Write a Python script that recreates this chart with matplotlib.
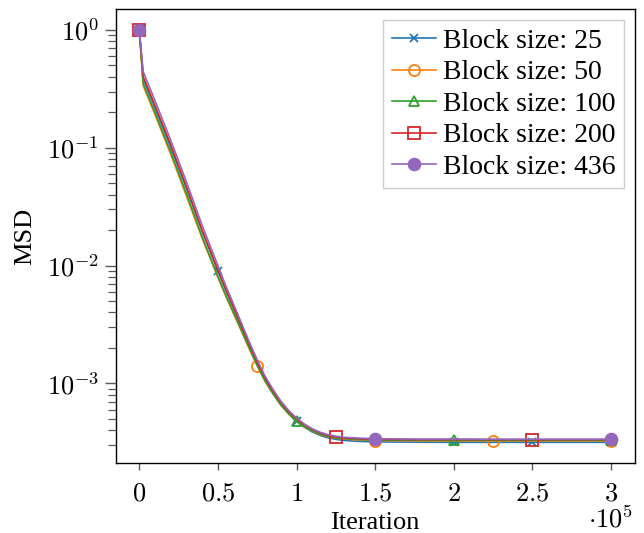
import matplotlib
matplotlib.use("Agg")
import matplotlib.pyplot as plt
from matplotlib.ticker import LogLocator, NullFormatter, FixedLocator

plt.rcParams['mathtext.fontset'] = 'cm'
plt.rcParams['font.family'] = ['Liberation Serif', 'DejaVu Serif']

iterations = [0, 2500, 10000, 20000, 30000, 40000, 50000, 55000, 60000, 65000,
              70000, 75000, 80000, 85000, 90000, 95000, 100000, 105000, 110000,
              115000, 120000, 125000, 130000, 140000, 150000, 175000, 200000,
              225000, 250000, 275000, 300000]

msd_25 = [1.0, 0.385, 0.218, 0.101, 0.0451, 0.0195, 9.00e-3, 6.15e-3, 4.31e-3, 3.01e-3,
          2.09e-3, 1.49e-3, 1.08e-3, 8.38e-4, 6.66e-4, 5.54e-4, 4.77e-4, 4.25e-4, 3.87e-4,
          3.62e-4, 3.45e-4, 3.35e-4, 3.28e-4, 3.22e-4, 3.19e-4, 3.17e-4, 3.16e-4,
          3.16e-4, 3.16e-4, 3.16e-4, 3.16e-4]
msd_50 = [1.0, 0.336, 0.191, 0.0880, 0.0389, 0.0170, 7.94e-3, 5.50e-3, 3.89e-3, 2.76e-3,
          1.95e-3, 1.41e-3, 1.04e-3, 8.13e-4, 6.53e-4, 5.50e-4, 4.76e-4, 4.27e-4, 3.92e-4,
          3.68e-4, 3.52e-4, 3.43e-4, 3.37e-4, 3.31e-4, 3.27e-4, 3.26e-4, 3.25e-4,
          3.25e-4, 3.25e-4, 3.25e-4, 3.25e-4]
msd_100 = [1.0, 0.352, 0.199, 0.0921, 0.0407, 0.0175, 8.10e-3, 5.61e-3, 3.98e-3, 2.82e-3,
           1.99e-3, 1.42e-3, 1.05e-3, 8.20e-4, 6.58e-4, 5.51e-4, 4.77e-4, 4.29e-4, 3.93e-4,
           3.70e-4, 3.54e-4, 3.45e-4, 3.39e-4, 3.34e-4, 3.30e-4, 3.29e-4, 3.28e-4,
           3.28e-4, 3.28e-4, 3.28e-4, 3.28e-4]
msd_200 = [1.0, 0.403, 0.228, 0.106, 0.0467, 0.0199, 9.20e-3, 6.29e-3, 4.40e-3, 3.08e-3,
           2.14e-3, 1.52e-3, 1.11e-3, 8.64e-4, 6.90e-4, 5.77e-4, 4.99e-4, 4.45e-4, 4.06e-4,
           3.79e-4, 3.62e-4, 3.51e-4, 3.44e-4, 3.39e-4, 3.35e-4, 3.33e-4, 3.33e-4,
           3.33e-4, 3.33e-4, 3.33e-4, 3.33e-4]
msd_436 = [1.0, 0.443, 0.251, 0.116, 0.0513, 0.0219, 0.0100, 6.76e-3, 4.68e-3, 3.24e-3,
           2.24e-3, 1.58e-3, 1.15e-3, 8.91e-4, 7.08e-4, 5.89e-4, 5.07e-4, 4.52e-4, 4.12e-4,
           3.85e-4, 3.67e-4, 3.56e-4, 3.49e-4, 3.43e-4, 3.39e-4, 3.37e-4, 3.37e-4,
           3.36e-4, 3.36e-4, 3.36e-4, 3.36e-4]

labels = ['Block size: 25', 'Block size: 50', 'Block size: 100',
          'Block size: 200', 'Block size: 436']
series = [msd_25, msd_50, msd_100, msd_200, msd_436]
marker_iters = [
    [0, 50000, 100000, 150000, 200000, 250000, 300000],
    [0, 75000, 150000, 225000, 300000],
    [0, 100000, 200000, 300000],
    [0, 125000, 250000],
    [0, 150000, 300000],
]
xtick_vals = [0, 50000, 100000, 150000, 200000, 250000, 300000]
xtick_labels = [r'$0$', r'$0.5$', r'$1$', r'$1.5$', r'$2$', r'$2.5$', r'$3$']
ytick_vals = [1e-3, 1e-2, 1e-1, 1e0]
ytick_labels = [r'$10^{-3}$', r'$10^{-2}$', r'$10^{-1}$', r'$10^{0}$']

colors = ['#1f77b4', '#ff7f0e', '#2ca02c', '#d62728', '#9467bd']
styles = [
    dict(marker='x', markersize=6, markeredgewidth=1.3),
    dict(marker='o', markersize=8, markerfacecolor='none', markeredgewidth=1.3),
    dict(marker='^', markersize=7.5, markerfacecolor='none', markeredgewidth=1.3),
    dict(marker='s', markersize=8, markerfacecolor='none', markeredgewidth=1.3),
    dict(marker='o', markersize=8.8),
]

fig = plt.figure(figsize=(6.44, 5.33), dpi=100)
ax = fig.add_axes([115.7/644, 1-463/533, (634.7-115.7)/644, (463-9.3)/533])

for y, lab, c, st, mi in zip(series, labels, colors, styles, marker_iters):
    idx = [iterations.index(v) for v in mi]
    ax.plot(iterations, y, color=c, lw=1.2, label=lab, markevery=idx, **st)

ax.set_yscale('log')
ax.set_xlim(-15000, 315000)
ax.set_ylim(2.11e-4, 1.5)

ax.set_xticks(xtick_vals)
ax.set_xticklabels(xtick_labels)
ax.yaxis.set_major_locator(FixedLocator(ytick_vals))
ax.set_yticklabels(ytick_labels)
ax.yaxis.set_minor_locator(LogLocator(base=10, subs=[2, 3, 4, 5, 6, 7, 8, 9], numticks=20))
ax.yaxis.set_minor_formatter(NullFormatter())

ax.tick_params(axis='x', which='major', direction='out', length=5, width=1.0,
               color='0.35', labelsize=19, pad=10)
ax.tick_params(axis='y', which='major', direction='out', length=8, width=1.0,
               color='0.35', labelsize=19, pad=4)
ax.tick_params(axis='y', which='minor', direction='out', length=6, width=0.9,
               color='0.35')
for sp in ax.spines.values():
    sp.set_linewidth(1.0)
    sp.set_color('black')

fig.text(25/644, 1-236/533, 'MSD', rotation=90, ha='center', va='center', fontsize=19)
fig.text(375/644, 1-529/533, 'Iteration', ha='center', va='baseline', fontsize=19)
fig.text(611/644, 1-528/533, r'$\cdot 10^{5}$', ha='center', va='baseline', fontsize=19)

leg = ax.legend(loc='upper right', fontsize=20, frameon=True, fancybox=False,
                framealpha=1, edgecolor='0.8', borderaxespad=0.385, borderpad=0.3,
                labelspacing=0.22, handlelength=1.6, handletextpad=0.25, numpoints=1)
leg.get_frame().set_linewidth(1.0)

fig.savefig('out.png', dpi=100)
